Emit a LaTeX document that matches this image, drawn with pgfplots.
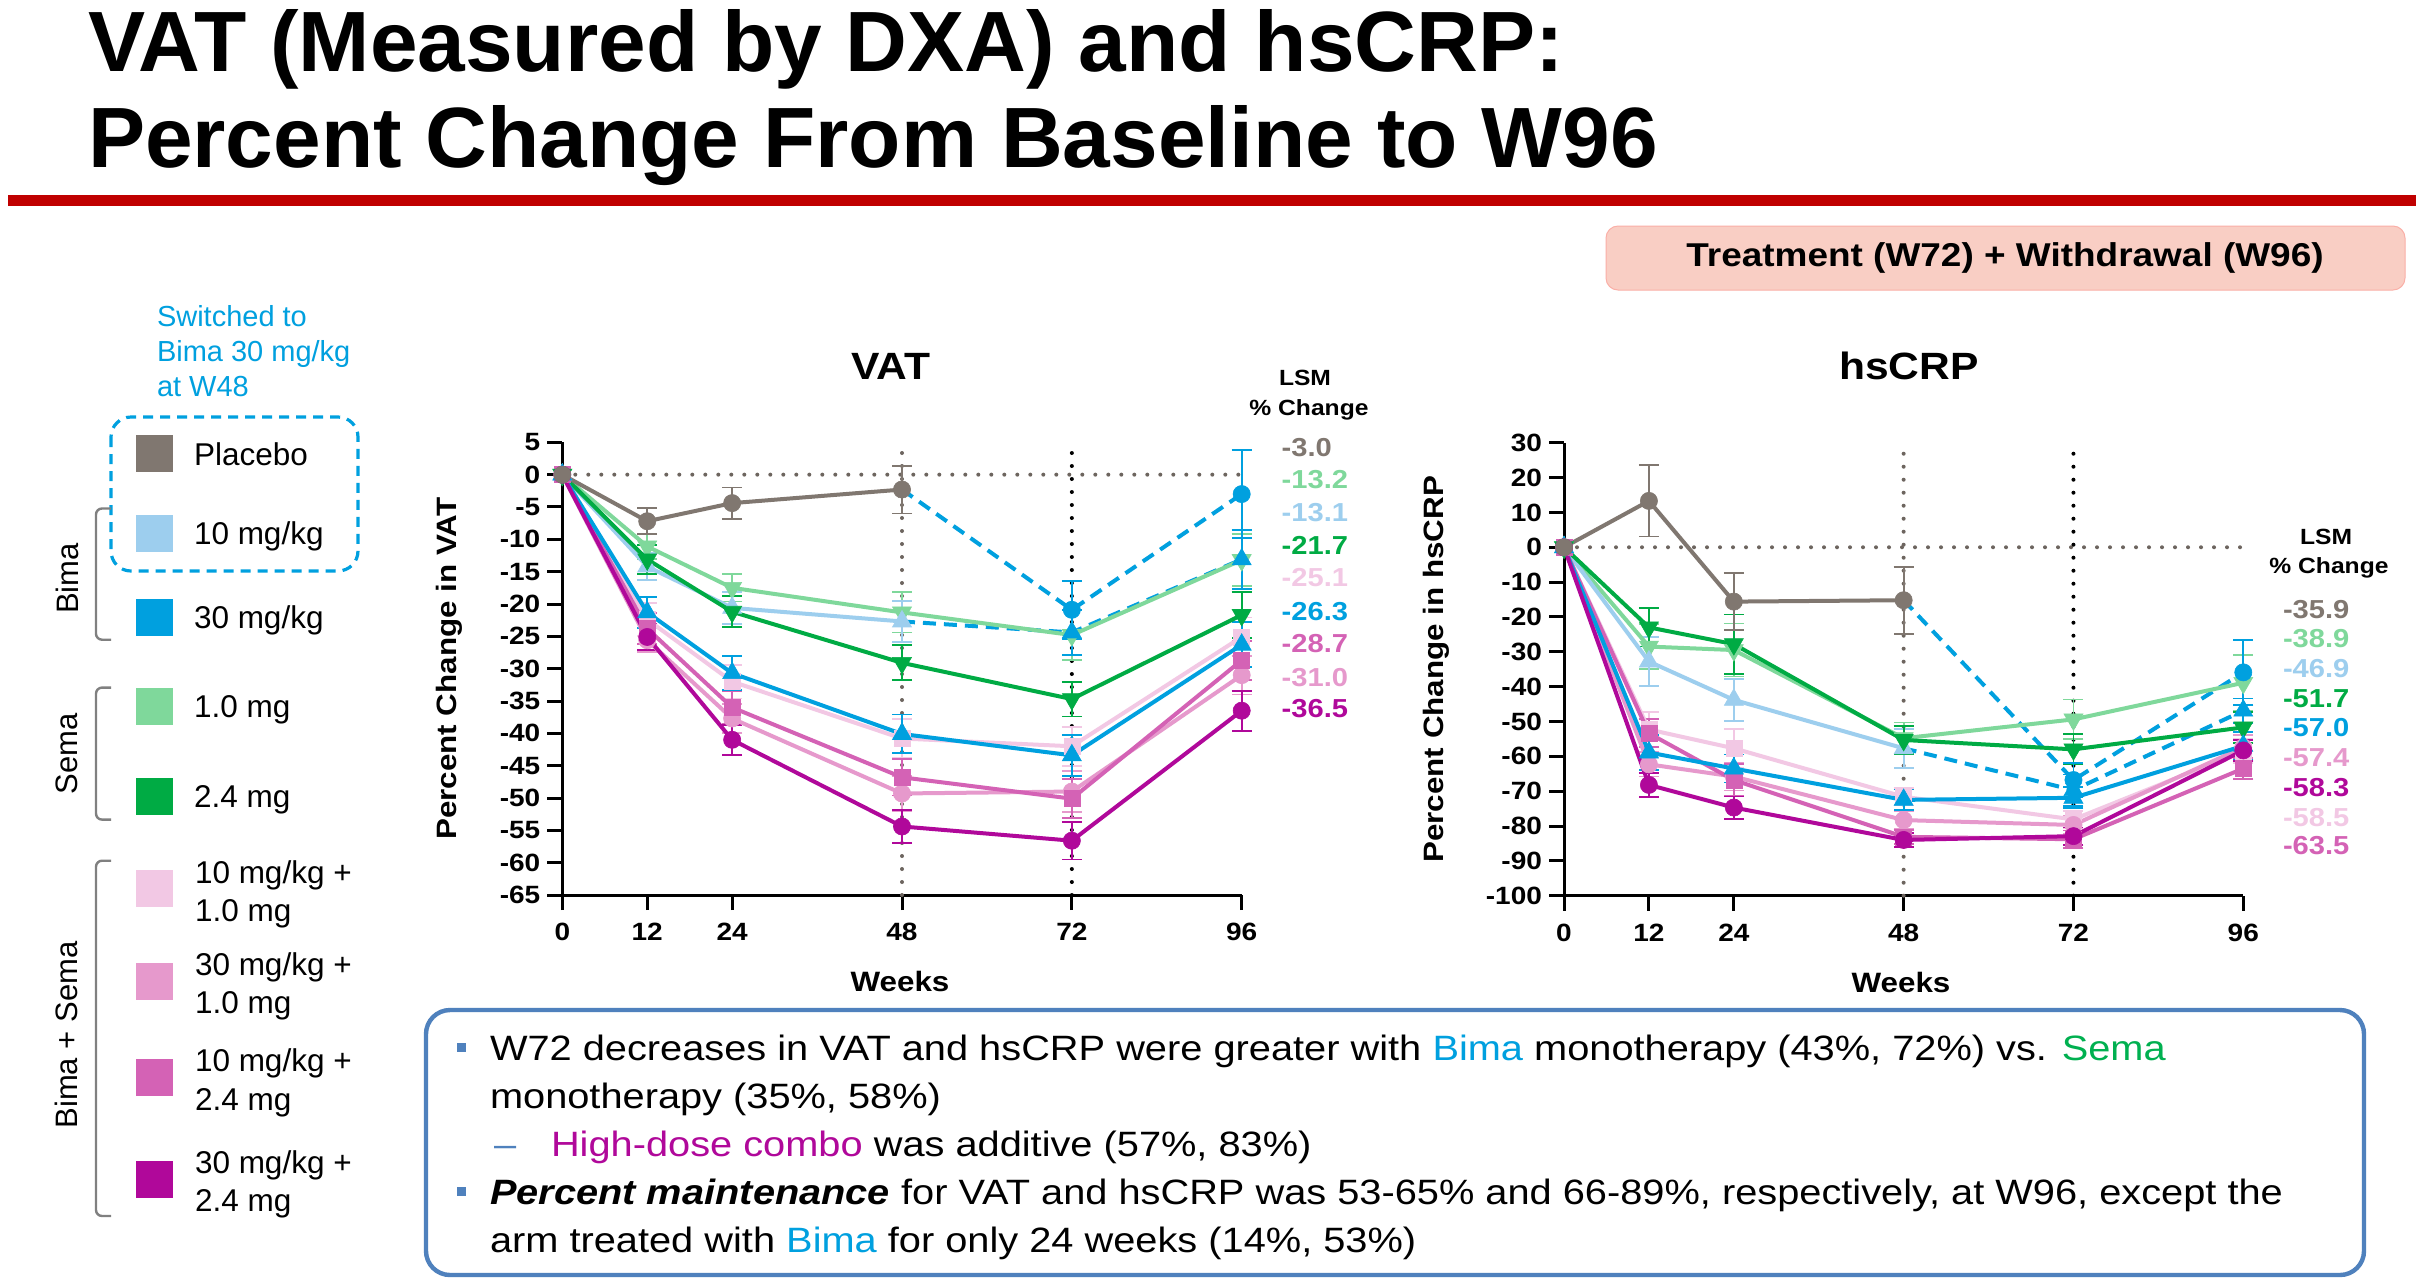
\documentclass[border=0pt]{standalone}
\usepackage{fontspec}
\setmainfont{Liberation Sans}
\newfontfamily\cf[FakeStretch=1.12]{Liberation Sans}
\newfontfamily\bx[FakeStretch=1.13]{Liberation Sans}
\usepackage{pgfplots}
\pgfplotsset{compat=1.18}

% arm colours
\definecolor{cPla}{RGB}{128,119,112}
\definecolor{cB10}{RGB}{157,206,238}
\definecolor{cB30}{RGB}{0,160,223}
\definecolor{cS10}{RGB}{127,216,155}
\definecolor{cS24}{RGB}{0,171,68}
\definecolor{cC1}{RGB}{242,200,228}
\definecolor{cC2}{RGB}{230,153,204}
\definecolor{cC3}{RGB}{212,98,181}
\definecolor{cC4}{RGB}{176,8,154}
\definecolor{cRed}{RGB}{192,0,0}
\definecolor{cBox}{RGB}{79,129,189}
\definecolor{cTreat}{RGB}{249,206,196}
\definecolor{cSemaTxt}{RGB}{0,176,80}

\pgfplotsset{
  chart/.style={
    scale only axis, anchor=south west,
    axis lines*=left, clip=false,
    xmin=0, xmax=96, xtick={0,12,24,48,72,96},
    tick align=outside, major tick length=7.5pt,
    axis line style={line width=1.5pt},
    tick style={line width=1.5pt, black},
    tick label style={font=\cf\bfseries\fontsize{12.5}{13}\selectfont},
    xticklabel style={yshift=-3pt},
    /pgf/number format/assume math mode=true,
  },
  ln/.style={color=#1, line width=2pt, mark size=4.3pt,
    mark options={solid, fill=#1, draw=#1, line width=0.3pt}},
  eb/.style={draw=none, mark=none, forget plot,
    error bars/y dir=both, error bars/y explicit,
    error bars/error bar style={draw=#1, line width=0.9pt, solid},
    error bars/error mark options={draw=#1, line width=0.9pt, mark size=5pt, rotate=90, solid}},
  sw/.style={color=cB30, line width=2pt, mark=none, dash pattern=on 6.5pt off 4pt},
  down/.style={every mark/.append style={rotate=180}},
  tri/.style={mark=triangle*, mark size=5.5pt},
  sq/.style={mark=square*, mark size=4pt},
}
\tikzset{t/.style={inner sep=0pt, outer sep=0pt},
  dots/.style={line width=2pt, line cap=round, dash pattern=on 0pt off 6.5pt}}

\begin{document}
\begin{tikzpicture}[x=0.5pt, y=-0.5pt]
\path[use as bounding box, fill=white] (0,0) rectangle (2422,1282);

% ---------- slide title ----------
\node[t, anchor=base west, font=\bfseries\fontsize{42.8}{48}\selectfont] at (88,71) {VAT (Measured by DXA) and hsCRP:};
\node[t, anchor=base west, font=\bfseries\fontsize{42.8}{48}\selectfont] at (88,167) {Percent Change From Baseline to W96};
\fill[cRed] (8,195) rectangle (2416,206);

% ---------- period banner ----------
\draw[fill=cTreat, draw=cTreat!85!red, rounded corners=6pt, line width=0.5pt] (1606,226) rectangle (2405,290);
\node[t, font=\cf\bfseries\fontsize{16.5}{18}\selectfont] at (2005,258) {Treatment (W72) + Withdrawal (W96)};

% ---------- arm key ----------
\begin{scope}[font=\fontsize{14.5}{16}\selectfont, cB30]
\node[t, anchor=base west] at (157,326) {Switched to};
\node[t, anchor=base west] at (157,361) {Bima 30 mg/kg};
\node[t, anchor=base west] at (157,396) {at W48};
\end{scope}
\draw[cB30, line width=1.6pt, dash pattern=on 5pt off 3.5pt, rounded corners=10pt] (111,417) rectangle (358,571);

\foreach \c/\yy in {cPla/453.5, cB10/533, cB30/617, cS10/706, cS24/796, cC1/888, cC2/981, cC3/1077, cC4/1179}
  \fill[\c] (136,\yy-18.5) rectangle (173,\yy+18.5);

\begin{scope}[font=\fontsize{15.75}{18}\selectfont]
\node[t, anchor=base west] at (194,465) {Placebo};
\node[t, anchor=base west] at (194,544) {10 mg/kg};
\node[t, anchor=base west] at (194,628) {30 mg/kg};
\node[t, anchor=base west] at (194,717) {1.0 mg};
\node[t, anchor=base west] at (194,807) {2.4 mg};
\node[t, anchor=base west] at (195,883) {10 mg/kg +};
\node[t, anchor=base west] at (195,921) {1.0 mg};
\node[t, anchor=base west] at (195,975) {30 mg/kg +};
\node[t, anchor=base west] at (195,1013) {1.0 mg};
\node[t, anchor=base west] at (195,1071) {10 mg/kg +};
\node[t, anchor=base west] at (195,1110) {2.4 mg};
\node[t, anchor=base west] at (195,1173) {30 mg/kg +};
\node[t, anchor=base west] at (195,1211) {2.4 mg};
\end{scope}

\begin{scope}[gray, line width=1.2pt, rounded corners=3pt]
\draw (111,508.5) -- (96,508.5) -- (96,639.7) -- (111,639.7);
\draw (111,687.6) -- (96,687.6) -- (96,819.6) -- (111,819.6);
\draw (111,860.7) -- (96,860.7) -- (96,1216) -- (111,1216);
\end{scope}
\begin{scope}[font=\fontsize{15.5}{18}\selectfont]
\node[t, rotate=90] at (67,578.5) {Bima};
\node[t, rotate=90] at (67,753.6) {Sema};
\node[t, rotate=90] at (66,1035) {Bima + Sema};
\end{scope}

% ---------- panel texts ----------
\begin{scope}[font=\cf\bfseries\fontsize{19}{22}\selectfont]
\node[t] at (891,366) {VAT};
\node[t] at (1909,366) {hsCRP};
\end{scope}
\begin{scope}[font=\cf\bfseries\fontsize{14}{16}\selectfont]
\node[t, rotate=90] at (449.5,668.7) {Percent Change in VAT};
\node[t, rotate=90] at (1436,669.2) {Percent Change in hsCRP};
\node[t] at (900,981) {Weeks};
\node[t] at (1901,982) {Weeks};
\end{scope}
\begin{scope}[font=\cf\bfseries\fontsize{11}{13}\selectfont]
\node[t, anchor=base] at (1305,385.5) {LSM};
\node[t, anchor=base] at (1309,415) {\% Change};
\node[t, anchor=base] at (2326,544.6) {LSM};
\node[t, anchor=base] at (2329,573.6) {\% Change};
\end{scope}
\begin{scope}[font=\cf\bfseries\fontsize{13}{15}\selectfont]
\node[t, anchor=base west, cPla] at (1281.7,456) {-3.0};
\node[t, anchor=base west, cS10] at (1281.7,488.6) {-13.2};
\node[t, anchor=base west, cB10] at (1281.7,521) {-13.1};
\node[t, anchor=base west, cS24] at (1281.7,554.3) {-21.7};
\node[t, anchor=base west, cC1] at (1281.7,586.3) {-25.1};
\node[t, anchor=base west, cB30] at (1281.7,620) {-26.3};
\node[t, anchor=base west, cC3] at (1281.7,652.3) {-28.7};
\node[t, anchor=base west, cC2] at (1281.7,686) {-31.0};
\node[t, anchor=base west, cC4] at (1281.7,717.6) {-36.5};
\node[t, anchor=base west, cPla] at (2283,618.3) {-35.9};
\node[t, anchor=base west, cS10] at (2283,647.6) {-38.9};
\node[t, anchor=base west, cB10] at (2283,677.6) {-46.9};
\node[t, anchor=base west, cS24] at (2283,707) {-51.7};
\node[t, anchor=base west, cB30] at (2283,736.6) {-57.0};
\node[t, anchor=base west, cC2] at (2283,766.6) {-57.4};
\node[t, anchor=base west, cC4] at (2283,796) {-58.3};
\node[t, anchor=base west, cC1] at (2283,826) {-58.5};
\node[t, anchor=base west, cC3] at (2283,854.3) {-63.5};
\end{scope}

\coordinate (vatSW) at (562.3,895);
\coordinate (crpSW) at (1564,895.7);

% ---------- VAT panel ----------
\begin{axis}[chart, at={(vatSW)}, width=339.7pt, height=226.35pt,
  ymin=-65, ymax=5, ytick={-65,-60,...,5}]
\draw[cPla!85!black, dots] (axis cs:0,0) -- (axis cs:96,0);
\draw[cPla!85!black, dots] (axis cs:48,-65) -- (axis cs:48,5);
\draw[black, dots] (axis cs:72,-65) -- (axis cs:72,5);
% error bars
\addplot[eb=cC1] coordinates {(12,-22.4) +- (0,2.5) (24,-32.0) +- (0,2.6) (48,-40.8) +- (0,3.0) (72,-42.0) +- (0,3.0) (96,-25.1) +- (0,3.0)};
\addplot[eb=cS10] coordinates {(12,-11.1) +- (0,2.0) (24,-17.5) +- (0,2.1) (48,-21.3) +- (0,3.1) (72,-24.8) +- (0,3.8) (96,-13.2) +- (0,4.0)};
\addplot[eb=cB10] coordinates {(12,-14.2) +- (0,2.1) (24,-20.6) +- (0,2.5) (48,-22.7) +- (0,3.2)};
\addplot[eb=cC2] coordinates {(12,-25.6) +- (0,1.8) (24,-37.7) +- (0,2.2) (48,-49.3) +- (0,2.7) (72,-49.0) +- (0,3.2) (96,-31.0) +- (0,3.0)};
\addplot[eb=cC3] coordinates {(12,-23.8) +- (0,2.4) (24,-36.0) +- (0,2.6) (48,-46.8) +- (0,2.8) (72,-50.1) +- (0,3.0) (96,-28.7) +- (0,3.0)};
\addplot[eb=cS24] coordinates {(12,-13.1) +- (0,2.2) (24,-21.2) +- (0,2.4) (48,-29.1) +- (0,2.7) (72,-34.7) +- (0,2.7) (96,-21.7) +- (0,3.5)};
\addplot[eb=cB30] coordinates {(12,-21.3) +- (0,2.4) (24,-30.7) +- (0,2.6) (48,-40.1) +- (0,3.0) (72,-43.4) +- (0,3.2) (96,-26.3) +- (0,3.5)};
\addplot[eb=cB30] coordinates {(72,-24.4) +- (0,3.5) (96,-13.1) +- (0,4.6) (72,-20.9) +- (0,4.5) (96,-3.0) +- (0,6.8)};
\addplot[eb=cC4] coordinates {(12,-25.1) +- (0,2.0) (24,-41.0) +- (0,2.3) (48,-54.4) +- (0,2.5) (72,-56.6) +- (0,2.9) (96,-36.5) +- (0,3.1)};
\addplot[eb=cPla] coordinates {(12,-7.2) +- (0,2.0) (24,-4.4) +- (0,2.4) (48,-2.3) +- (0,3.7)};
% arms switched to Bima 30 mg/kg at W48
\addplot[sw] coordinates {(48,-22.7) (72,-24.4) (96,-13.1)};
\addplot[sw] coordinates {(48,-2.3) (72,-20.9) (96,-3.0)};
% arm means
\addplot[ln=cC1, sq] coordinates {(0,0) (12,-22.4) (24,-32.0) (48,-40.8) (72,-42.0) (96,-25.1)};
\addplot[ln=cS10, tri, down] coordinates {(0,0) (12,-11.1) (24,-17.5) (48,-21.3) (72,-24.8) (96,-13.2)};
\addplot[ln=cB10, tri] coordinates {(0,0) (12,-14.2) (24,-20.6) (48,-22.7)};
\addplot[ln=cC2, mark=*] coordinates {(0,0) (12,-25.6) (24,-37.7) (48,-49.3) (72,-49.0) (96,-31.0)};
\addplot[ln=cC3, sq] coordinates {(0,0) (12,-23.8) (24,-36.0) (48,-46.8) (72,-50.1) (96,-28.7)};
\addplot[ln=cS24, tri, down] coordinates {(0,0) (12,-13.1) (24,-21.2) (48,-29.1) (72,-34.7) (96,-21.7)};
\addplot[ln=cB30, tri] coordinates {(0,0) (12,-21.3) (24,-30.7) (48,-40.1) (72,-43.4) (96,-26.3)};
\addplot[ln=cC4, mark=*] coordinates {(0,0) (12,-25.1) (24,-41.0) (48,-54.4) (72,-56.6) (96,-36.5)};
\addplot[ln=cB30, only marks, tri] coordinates {(72,-24.4) (96,-13.1)};
\addplot[ln=cB30, only marks, mark=*] coordinates {(72,-20.9) (96,-3.0)};
\addplot[ln=cPla, mark=*] coordinates {(0,0) (12,-7.2) (24,-4.4) (48,-2.3)};
\end{axis}

% ---------- hsCRP panel ----------
\begin{axis}[chart, at={(crpSW)}, width=339.65pt, height=226.5pt,
  ymin=-100, ymax=30, ytick={-100,-90,...,30}]
\draw[cPla!85!black, dots] (axis cs:0,0) -- (axis cs:96,0);
\draw[cPla!85!black, dots] (axis cs:48,-100) -- (axis cs:48,30);
\draw[black, dots] (axis cs:72,-100) -- (axis cs:72,30);
% error bars
\addplot[eb=cC1] coordinates {(12,-52.3) +- (0,5.0) (24,-57.7) +- (0,5.5) (48,-71.6) +- (0,2.5) (72,-78.1) +- (0,2.5) (96,-58.5) +- (0,3.5)};
\addplot[eb=cS10] coordinates {(12,-28.5) +- (0,6.5) (24,-29.5) +- (0,7.6) (48,-54.8) +- (0,4.5) (72,-49.4) +- (0,5.7) (96,-38.9) +- (0,8.0)};
\addplot[eb=cB10] coordinates {(12,-32.8) +- (0,7.0) (24,-43.8) +- (0,6.0) (48,-57.7) +- (0,5.6)};
\addplot[eb=cC2] coordinates {(12,-62.3) +- (0,3.5) (24,-65.8) +- (0,4.0) (48,-78.3) +- (0,2.5) (72,-79.7) +- (0,2.5) (96,-57.4) +- (0,3.5)};
\addplot[eb=cC3] coordinates {(12,-53.4) +- (0,4.0) (24,-66.8) +- (0,4.5) (48,-83.1) +- (0,2.0) (72,-83.8) +- (0,2.5) (96,-63.5) +- (0,3.0)};
\addplot[eb=cS24] coordinates {(12,-23.0) +- (0,5.5) (24,-27.8) +- (0,8.5) (48,-55.3) +- (0,4.0) (72,-58.0) +- (0,4.3) (96,-51.7) +- (0,4.5)};
\addplot[eb=cB30] coordinates {(12,-58.9) +- (0,5.0) (24,-63.5) +- (0,4.0) (48,-72.5) +- (0,3.0) (72,-71.9) +- (0,3.0) (96,-57.0) +- (0,4.0)};
\addplot[eb=cB30] coordinates {(72,-69.7) +- (0,4.5) (96,-46.9) +- (0,3.5) (72,-66.8) +- (0,5.0) (96,-35.9) +- (0,9.3)};
\addplot[eb=cC4] coordinates {(12,-68.2) +- (0,3.5) (24,-74.7) +- (0,3.2) (48,-84.0) +- (0,2.0) (72,-82.9) +- (0,2.5) (96,-58.3) +- (0,3.0)};
\addplot[eb=cPla] coordinates {(12,13.3) +- (0,10.2) (24,-15.6) +- (0,8.2) (48,-15.2) +- (0,9.6)};
% arms switched to Bima 30 mg/kg at W48
\addplot[sw] coordinates {(48,-57.7) (72,-69.7) (96,-46.9)};
\addplot[sw] coordinates {(48,-15.2) (72,-66.8) (96,-35.9)};
% arm means
\addplot[ln=cC1, sq] coordinates {(0,0) (12,-52.3) (24,-57.7) (48,-71.6) (72,-78.1) (96,-58.5)};
\addplot[ln=cS10, tri, down] coordinates {(0,0) (12,-28.5) (24,-29.5) (48,-54.8) (72,-49.4) (96,-38.9)};
\addplot[ln=cB10, tri] coordinates {(0,0) (12,-32.8) (24,-43.8) (48,-57.7)};
\addplot[ln=cC2, mark=*] coordinates {(0,0) (12,-62.3) (24,-65.8) (48,-78.3) (72,-79.7) (96,-57.4)};
\addplot[ln=cC3, sq] coordinates {(0,0) (12,-53.4) (24,-66.8) (48,-83.1) (72,-83.8) (96,-63.5)};
\addplot[ln=cS24, tri, down] coordinates {(0,0) (12,-23.0) (24,-27.8) (48,-55.3) (72,-58.0) (96,-51.7)};
\addplot[ln=cB30, tri] coordinates {(0,0) (12,-58.9) (24,-63.5) (48,-72.5) (72,-71.9) (96,-57.0)};
\addplot[ln=cC4, mark=*] coordinates {(0,0) (12,-68.2) (24,-74.7) (48,-84.0) (72,-82.9) (96,-58.3)};
\addplot[ln=cB30, only marks, tri] coordinates {(72,-69.7) (96,-46.9)};
\addplot[ln=cB30, only marks, mark=*] coordinates {(72,-66.8) (96,-35.9)};
\addplot[ln=cPla, mark=*] coordinates {(0,0) (12,13.3) (24,-15.6) (48,-15.2)};
\end{axis}

% ---------- key findings ----------
\draw[cBox, line width=2.2pt, rounded corners=12pt] (426,1010) rectangle (2364,1275);
\fill[cBox] (456.5,1043) rectangle (465.5,1052);
\fill[cBox] (456.5,1187) rectangle (465.5,1196);
\begin{scope}[font=\bx\fontsize{17.6}{20}\selectfont]
\node[t, anchor=base west] at (490,1060.5) {W72 decreases in VAT and hsCRP were greater with \textcolor{cB30}{Bima} monotherapy (43\%, 72\%) vs. \textcolor{cSemaTxt}{Sema}};
\node[t, anchor=base west] at (490,1108.5) {monotherapy (35\%, 58\%)};
\node[t, anchor=base west, cBox] at (494,1156.5) {\textendash};
\node[t, anchor=base west] at (551,1156.5) {\textcolor{cC4}{High-dose combo} was additive (57\%, 83\%)};
\node[t, anchor=base west] at (490,1204.5) {\textbf{\textit{Percent maintenance}} for VAT and hsCRP was 53-65\% and 66-89\%, respectively, at W96, except the};
\node[t, anchor=base west] at (490,1252.5) {arm treated with \textcolor{cB30}{Bima} for only 24 weeks (14\%, 53\%)};
\end{scope}
\end{tikzpicture}
\end{document}
